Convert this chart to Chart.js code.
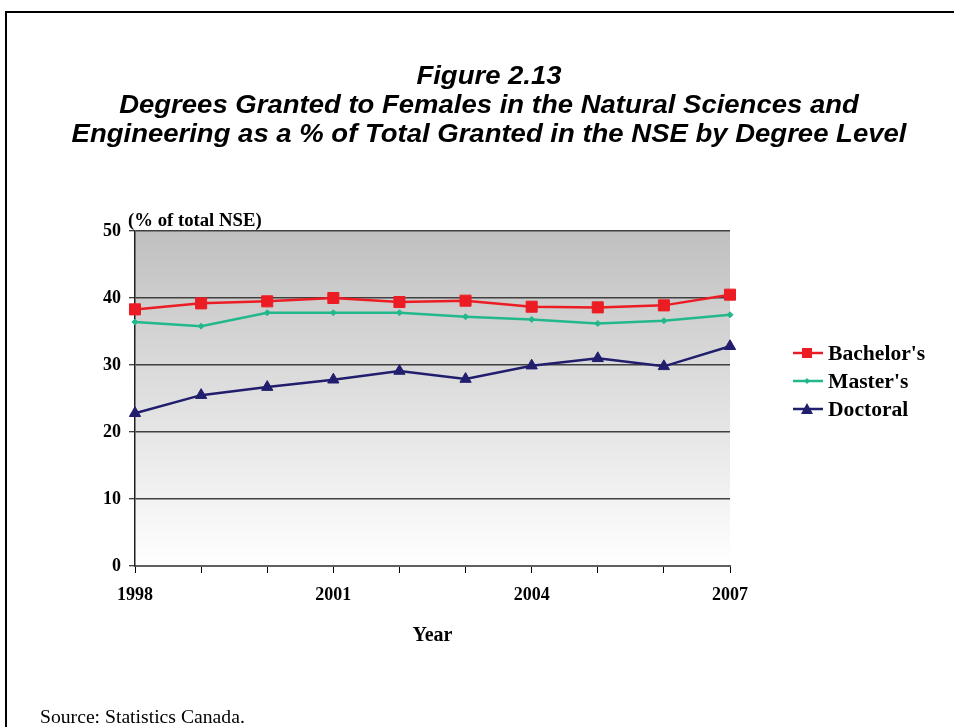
<!DOCTYPE html>
<html>
<head>
<meta charset="utf-8">
<script src="https://cdn.jsdelivr.net/npm/chart.js@4.4.1/dist/chart.umd.min.js"></script>
<style>
  html, body { margin: 0; padding: 0; background: #fff; }
  body { width: 954px; height: 727px; position: relative; overflow: hidden; }
  #frame { position: absolute; left: 5px; top: 11px; width: 960px; height: 730px;
           border-left: 2px solid #000; border-top: 2px solid #000; }
  #wrap { position: absolute; left: 0; top: 0; width: 954px; height: 727px; }
  #title { position: absolute; left: 12px; top: 61px; width: 954px; text-align: center;
           font-family: "Liberation Sans", Arial, sans-serif; font-weight: bold; font-style: italic;
           font-size: 25px; line-height: 29px; color: #000; transform: scaleX(1.1); transform-origin: 477px 0; }
  #unit { position: absolute; left: 128px; top: 209px; font-family: "Liberation Serif", "Times New Roman", serif;
          font-weight: bold; font-size: 18px; line-height: 22px; color: #000; white-space: nowrap;
          transform: scaleX(1.04); transform-origin: 0 0; }
  #legend { position: absolute; left: 792px; top: 339px; }
  .item { position: absolute; left: 0; height: 28px; white-space: nowrap; }
  .item svg { position: absolute; left: 0; top: 7px; }
  .item span { position: absolute; left: 36px; top: 0; font-family: "Liberation Serif", "Times New Roman", serif;
               font-weight: bold; font-size: 20px; line-height: 28px; color: #000;
               transform: scaleX(1.08); transform-origin: 0 0; }
  #source { position: absolute; left: 40px; top: 706px; font-family: "Liberation Serif", "Times New Roman", serif;
            font-size: 19px; line-height: 22px; color: #000; white-space: nowrap;
            transform: scaleX(1.035); transform-origin: 0 0; }
</style>
</head>
<body>
<div id="frame"></div>
<div id="wrap"><canvas id="c" width="954" height="727"></canvas></div>
<div id="title">Figure 2.13<br>Degrees Granted to Females in the Natural Sciences and<br>Engineering as a % of Total Granted in the NSE by Degree Level</div>
<div id="unit">(% of total NSE)</div>
<div id="legend"></div>
<div id="source">Source: Statistics Canada.</div>
<script>
// ---- data ----
const years = ['1998','1999','2000','2001','2002','2003','2004','2005','2006','2007'];
const shownYearLabels = ['1998','2001','2004','2007'];
const bachelors = [38.3, 39.2, 39.5, 40.0, 39.4, 39.6, 38.7, 38.6, 38.9, 40.5];
const masters   = [36.4, 35.8, 37.8, 37.8, 37.8, 37.2, 36.8, 36.2, 36.6, 37.5];
const doctoral  = [22.8, 25.5, 26.7, 27.8, 29.1, 27.9, 29.9, 31.0, 29.8, 32.8];
const yTickValues = [0, 10, 20, 30, 40, 50];
const seriesNames = ["Bachelor's", "Master's", "Doctoral"];
const xAxisTitle = 'Year';

const RED = '#ec1c24', TEAL = '#22b88c', NAVY = '#221e6e';

const bgPlugin = {
  id: 'plotBg',
  beforeDraw(chart) {
    const { ctx, chartArea: a } = chart;
    const g = ctx.createLinearGradient(0, a.top, 0, a.bottom);
    g.addColorStop(0, '#c0c0c0');
    g.addColorStop(1, '#ffffff');
    ctx.save();
    ctx.fillStyle = g;
    ctx.fillRect(a.left, a.top, a.right - a.left, a.bottom - a.top);
    ctx.restore();
  }
};

const serif = "'Liberation Serif', 'Times New Roman', serif";

const chart = new Chart(document.getElementById('c'), {
  type: 'line',
  data: {
    labels: years,
    datasets: [
      { label: seriesNames[0], data: bachelors, borderColor: RED, backgroundColor: RED,
        borderWidth: 2.5, pointStyle: 'rect', pointRadius: 7.8, pointBorderWidth: 1, tension: 0 },
      { label: seriesNames[1], data: masters, borderColor: TEAL, backgroundColor: TEAL,
        borderWidth: 2.5, pointStyle: 'rectRot', pointRadius: 3, pointBorderWidth: 1, tension: 0 },
      { label: seriesNames[2], data: doctoral, borderColor: NAVY, backgroundColor: NAVY,
        borderWidth: 2.5, pointStyle: 'triangle', pointRadius: 6.5, pointBorderWidth: 1, tension: 0 }
    ]
  },
  options: {
    responsive: false,
    animation: false,
    devicePixelRatio: 1,
    layout: { padding: { left: 0, top: 231, right: 224, bottom: 78 } },
    plugins: { legend: { display: false }, title: { display: false }, tooltip: { enabled: false } },
    scales: {
      x: {
        type: 'category',
        offset: false,
        grid: { drawOnChartArea: false, drawTicks: true, tickLength: 7, tickColor: '#000', tickWidth: 1 },
        border: { display: true, color: '#606060', width: 2 },
        ticks: {
          autoSkip: false, maxRotation: 0, padding: 12, color: '#000',
          font: { family: serif, weight: 'bold', size: 18 },
          callback(v, i) { const y = years[i]; return shownYearLabels.includes(y) ? y : ''; }
        },
        title: { display: true, text: xAxisTitle, color: '#000', padding: { top: 0, bottom: 1 },
                 font: { family: serif, weight: 'bold', size: 20 } },
        afterFit(s) { s.height = 83; }
      },
      y: {
        min: 0, max: 50,
        afterBuildTicks(s) { s.ticks = yTickValues.map(v => ({ value: v })); },
        grid: { color: '#404040', lineWidth: 1.5, drawTicks: true, tickLength: 6, tickColor: '#000', tickWidth: 1 },
        border: { display: true, color: '#202020', width: 1.5 },
        ticks: { padding: 8, color: '#000', font: { family: serif, weight: 'bold', size: 18 } },
        afterFit(s) { s.width = 135; }
      }
    }
  },
  plugins: [bgPlugin]
});

// ---- legend built from the chart's datasets ----
const legend = document.getElementById('legend');
chart.data.datasets.forEach((ds, i) => {
  const item = document.createElement('div');
  item.className = 'item';
  item.style.top = (i * 28) + 'px';
  let marker = '';
  if (ds.pointStyle === 'rect') marker = '<rect x="10" y="2" width="10" height="10" fill="' + ds.borderColor + '"/>';
  else if (ds.pointStyle === 'rectRot') marker = '<polygon points="15,4 18,7 15,10 12,7" fill="' + ds.borderColor + '"/>';
  else marker = '<polygon points="15,1 21,12 9,12" fill="' + ds.borderColor + '"/>';
  item.innerHTML = '<svg width="32" height="14"><line x1="1" y1="7" x2="31" y2="7" stroke="' + ds.borderColor +
    '" stroke-width="2.5"/>' + marker + '</svg><span>' + ds.label + '</span>';
  legend.appendChild(item);
});
</script>
</body>
</html>
